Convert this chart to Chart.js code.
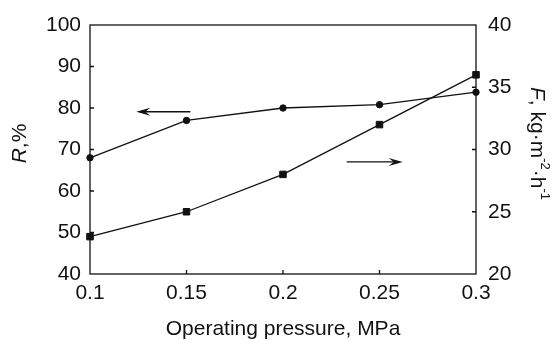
<!DOCTYPE html>
<html>
<head>
<meta charset="utf-8">
<script src="https://cdn.jsdelivr.net/npm/chart.js@4.4.0/dist/chart.umd.min.js"></script>
<style>
  html, body { margin: 0; padding: 0; background: #fff; }
</style>
</head>
<body>
<canvas id="pressureChart" width="555" height="340"></canvas>
<script>
// data
const pressure = [0.1, 0.15, 0.2, 0.25, 0.3];
const rejection = [68, 77, 80, 80.8, 83.8];
const flux = [23, 25, 28, 32, 36];
const xTicks = [0.1, 0.15, 0.2, 0.25, 0.3];
const rTicks = [40, 50, 60, 70, 80, 90, 100];
const fTicks = [20, 25, 30, 35, 40];
// arrows pointing at each series' axis: [x from, x to], level on that axis
const leftArrowX = [0.152, 0.124];
const leftArrowR = 79.1;
const rightArrowX = [0.233, 0.262];
const rightArrowF = 29;

const fontFamily = '"Liberation Sans", Arial, Helvetica, sans-serif';
const ink = "#111";
const ctx = document.getElementById("pressureChart");

function drawArrow(c, x0, y, x1) {
  const dir = x1 > x0 ? 1 : -1;
  c.beginPath();
  c.moveTo(x0, y);
  c.lineTo(x1 - dir * 5, y);
  c.stroke();
  c.beginPath();
  c.moveTo(x1, y);
  c.lineTo(x1 - dir * 14, y - 4);
  c.lineTo(x1 - dir * 9, y);
  c.lineTo(x1 - dir * 14, y + 4);
  c.closePath();
  c.fill();
}

const frame = {
  id: "frame",
  beforeDatasetsDraw(chart) {
    const c = chart.ctx;
    const a = chart.chartArea;
    const x = chart.scales.x;
    const yR = chart.scales.yR;
    const yF = chart.scales.yF;
    c.save();
    c.strokeStyle = ink;
    c.lineWidth = 1.3;
    c.strokeRect(a.left, a.top, a.right - a.left, a.bottom - a.top);
    const tl = 4;
    c.beginPath();
    xTicks.slice(1, -1).forEach(v => {
      const px = x.getPixelForValue(v);
      c.moveTo(px, a.bottom);
      c.lineTo(px, a.bottom - tl);
    });
    rTicks.slice(1, -1).forEach(v => {
      const py = yR.getPixelForValue(v);
      c.moveTo(a.left, py);
      c.lineTo(a.left + tl, py);
    });
    fTicks.slice(1, -1).forEach(v => {
      const py = yF.getPixelForValue(v);
      c.moveTo(a.right, py);
      c.lineTo(a.right - tl, py);
    });
    c.stroke();
    c.restore();
  },
  afterDatasetsDraw(chart) {
    const c = chart.ctx;
    const x = chart.scales.x;
    const yR = chart.scales.yR;
    const yF = chart.scales.yF;
    c.save();
    c.strokeStyle = ink;
    c.fillStyle = ink;
    c.lineWidth = 1.3;
    drawArrow(c, x.getPixelForValue(leftArrowX[0]), yR.getPixelForValue(leftArrowR), x.getPixelForValue(leftArrowX[1]));
    drawArrow(c, x.getPixelForValue(rightArrowX[0]), yF.getPixelForValue(rightArrowF), x.getPixelForValue(rightArrowX[1]));

    // axis titles with italic symbols and superscripts
    const a = chart.chartArea;
    const midY = (a.top + a.bottom) / 2 - 6;
    c.textBaseline = "middle";
    c.textAlign = "left";

    const big = "21px " + fontFamily;
    const bigI = "italic 21px " + fontFamily;
    const small = "13px " + fontFamily;

    // left: R,%
    c.save();
    c.translate(20, midY);
    c.rotate(-Math.PI / 2);
    let parts = [["R", bigI, 0], [",%", big, 0]];
    let w = 0;
    parts.forEach(p => { c.font = p[1]; w += c.measureText(p[0]).width; });
    let cx = -w / 2;
    parts.forEach(p => { c.font = p[1]; c.fillText(p[0], cx, p[2]); cx += c.measureText(p[0]).width; });
    c.restore();

    // right: F, kg·m-2·h-1
    c.save();
    c.translate(537, midY);
    c.rotate(Math.PI / 2);
    parts = [["F", bigI, 0], [", kg\u00b7m", big, 0], ["-2", small, -8], ["\u00b7h", big, 0], ["-1", small, -8]];
    w = 0;
    parts.forEach(p => { c.font = p[1]; w += c.measureText(p[0]).width; });
    cx = -w / 2;
    parts.forEach(p => { c.font = p[1]; c.fillText(p[0], cx, p[2]); cx += c.measureText(p[0]).width; });
    c.restore();

    c.restore();
  }
};

new Chart(ctx, {
  type: "line",
  data: {
    datasets: [
      {
        label: "R",
        data: pressure.map((p, i) => ({ x: p, y: rejection[i] })),
        yAxisID: "yR",
        borderColor: ink,
        backgroundColor: ink,
        borderWidth: 1.3,
        pointStyle: "circle",
        pointRadius: 3.2,
        pointBorderWidth: 1,
        tension: 0,
        clip: false,
      },
      {
        label: "F",
        data: pressure.map((p, i) => ({ x: p, y: flux[i] })),
        yAxisID: "yF",
        borderColor: ink,
        backgroundColor: ink,
        borderWidth: 1.3,
        pointStyle: "rect",
        pointRadius: 4.6,
        pointBorderWidth: 1,
        tension: 0,
        clip: false,
      },
    ],
  },
  options: {
    responsive: false,
    animation: false,
    devicePixelRatio: 1,
    layout: { padding: { top: 25, left: 0, right: 0, bottom: 0 } },
    plugins: {
      legend: { display: false },
      tooltip: { enabled: false },
    },
    scales: {
      x: {
        type: "linear",
        position: "bottom",
        min: 0.1,
        max: 0.3,
        afterBuildTicks: s => { s.ticks = xTicks.map(v => ({ value: v })); },
        afterFit: s => { s.height = 66; },
        grid: { display: false, drawTicks: false },
        border: { display: false },
        ticks: {
          padding: 7,
          color: ink,
          font: { family: fontFamily, size: 21 },
          maxRotation: 0,
          autoSkip: false,
          callback: v => String(v),
        },
        title: {
          display: true,
          text: "Operating pressure, MPa",
          color: ink,
          font: { family: fontFamily, size: 21, lineHeight: 1 },
          padding: 0,
        },
      },
      yR: {
        type: "linear",
        position: "left",
        min: 40,
        max: 100,
        afterBuildTicks: s => { s.ticks = rTicks.map(v => ({ value: v })); },
        afterFit: s => { s.width = 90; },
        grid: { display: false, drawTicks: false },
        border: { display: false },
        ticks: {
          padding: 9,
          color: ink,
          font: { family: fontFamily, size: 21 },
        },
      },
      yF: {
        type: "linear",
        position: "right",
        min: 20,
        max: 40,
        afterBuildTicks: s => { s.ticks = fTicks.map(v => ({ value: v })); },
        afterFit: s => { s.width = 79; },
        grid: { display: false, drawTicks: false },
        border: { display: false },
        ticks: {
          padding: 12,
          color: ink,
          font: { family: fontFamily, size: 21 },
        },
      },
    },
  },
  plugins: [frame],
});
</script>
</body>
</html>
